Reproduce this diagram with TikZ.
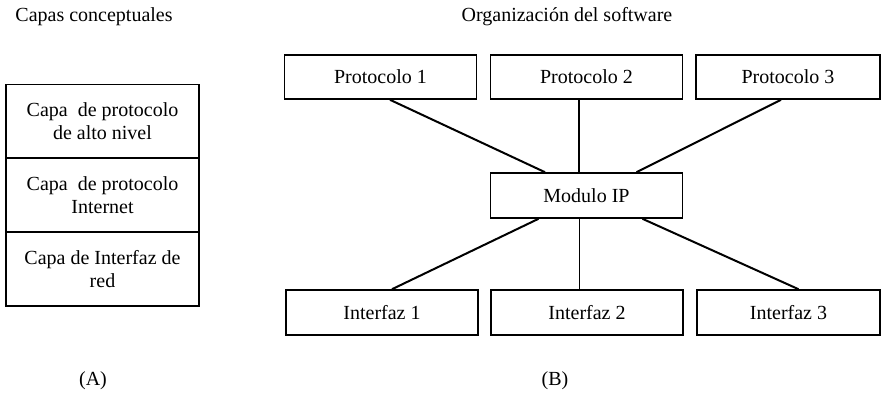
\documentclass[tikz,border=0pt]{standalone}
\usepackage{fontspec}
\setmainfont{Liberation Serif}
\begin{document}
\begin{tikzpicture}[x=0.5pt,y=-0.5pt,font=\fontsize{10}{11.5}\selectfont,
  box/.style={draw, line width=0.8pt, inner sep=0pt, align=center, minimum width=96pt, minimum height=22pt},
  layer/.style={box, minimum width=96.5pt, minimum height=37pt},
  link/.style={line width=1pt},
  vlink/.style={line width=0.6pt}]
\useasboundingbox (0,0) rectangle (885,397);

\node (tA) at (94,17) {Capas conceptuales};
\node (tB) at (567,17) {Organización del software};

\node[layer] (cap1) at (102.5,121.5) {Capa \ de protocolo\\de alto nivel};
\node[layer] (cap2) at (102.5,195) {Capa \ de protocolo\\Internet};
\node[layer] (cap3) at (102.5,269) {Capa de Interfaz de\\red};

\node[box] (p1) at (380.5,77) {Protocolo 1};
\node[box] (p2) at (586.5,77) {Protocolo 2};
\node[box,minimum width=92pt] (p3) at (788,77) {Protocolo 3};

\node[box,minimum height=22.5pt] (ip) at (586.5,195.5) {Modulo IP};

\node[box,minimum height=22.5pt] (i1) at (382,312.5) {Interfaz 1};
\node[box,minimum height=22.5pt] (i2) at (587,312.5) {Interfaz 2};
\node[box,minimum width=91.5pt,minimum height=22.5pt] (i3) at (788.5,312.5) {Interfaz 3};

\draw[link] ([xshift=4.75pt]p1.south) -- ([xshift=-20.75pt]ip.north);
\draw[vlink] ([xshift=-3.75pt]p2.south) -- ([xshift=-3.75pt]ip.north);
\draw[link] ([xshift=-3.5pt]p3.south) -- ([xshift=25pt]ip.north);

\draw[link] ([xshift=-24pt]ip.south) -- ([xshift=5pt]i1.north);
\draw[vlink] ([xshift=-3.5pt]ip.south) -- ([xshift=-3.75pt]i2.north);
\draw[link] ([xshift=28pt]ip.south) -- ([xshift=5pt]i3.north);

\node (labA) at (93,381) {(A)};
\node (labB) at (555,381) {(B)};

\end{tikzpicture}
\end{document}
